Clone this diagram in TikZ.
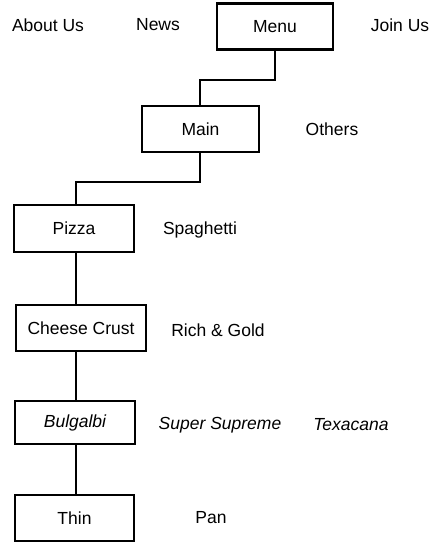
\documentclass[tikz,border=0pt]{standalone}
\usepackage{fontspec}
\setmainfont{Liberation Sans}
\begin{document}
\begin{tikzpicture}[x=1pt,y=-1pt,
  every node/.style={font=\fontsize{17.5}{20}\selectfont, inner sep=0pt},
  menubox/.style={draw, line width=2.2pt, rectangle, minimum height=46pt},
  link/.style={line width=2.8pt, line join=miter},
  lbl/.style={anchor=center}]
\useasboundingbox (0,0) rectangle (431,543);
% top row
\node[lbl] (about) at (48,25) {About Us};
\node[lbl] (news) at (158,25) {News};
\node[menubox, minimum width=116pt] (menu) at (275,26.5) {Menu};
\node[lbl] (join) at (400,25) {Join Us};
% main
\node[menubox, minimum width=117pt] (main) at (200.5,129) {Main};
\node[lbl] (others) at (332,129) {Others};
% pizza
\node[menubox, minimum width=120pt, minimum height=47pt] (pizza) at (74,228.5) {Pizza};
\node[lbl] (spag) at (200,230) {Spaghetti};
% cheese crust
\node[menubox, minimum width=130pt] (cheese) at (81,328) {Cheese Crust};
\node[lbl] (rich) at (218,330) {Rich \& Gold};
% bulgalbi
\node[menubox, minimum width=120pt, minimum height=43pt] (bulg) at (75,422.5) {\itshape Bulgalbi};
\node[lbl] (super) at (220,425) {\itshape Super Supreme};
\node[lbl] (texa) at (351,425) {\itshape Texacana};
% thin
\node[menubox, minimum width=119pt] (thin) at (74.5,518) {Thin};
\node[lbl] (pan) at (211,518) {Pan};
% connectors
\coordinate (j1) at (200,80);
\coordinate (j2) at (76,182);
\coordinate (xl) at (76,0);
\draw[link] (menu.south) |- (j1) -- (main.north -| j1);
\draw[link] (main.south -| j1) |- (j2) -- (pizza.north -| j2);
\draw[link] (pizza.south -| xl) -- (cheese.north -| xl);
\draw[link] (cheese.south -| xl) -- (bulg.north -| xl);
\draw[link] (bulg.south -| xl) -- (thin.north -| xl);
\end{tikzpicture}
\end{document}
